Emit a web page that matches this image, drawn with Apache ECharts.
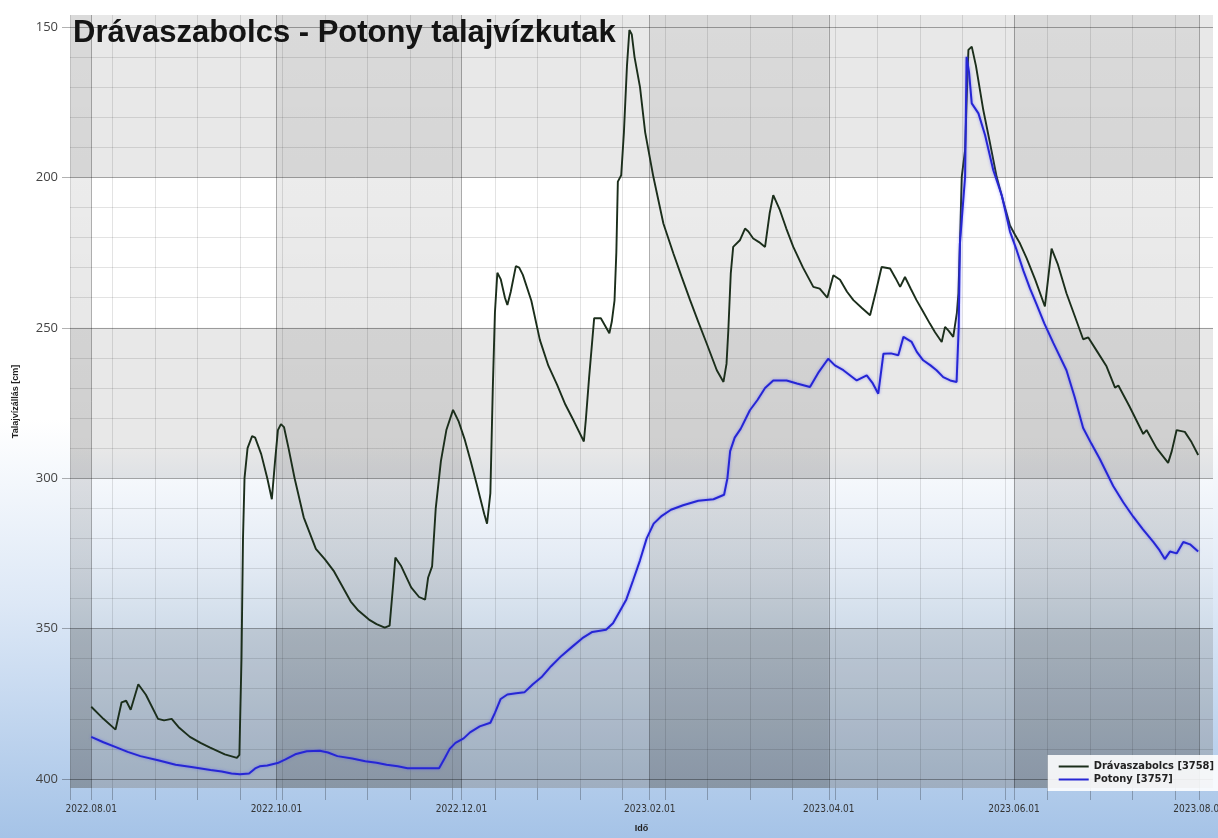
<!DOCTYPE html>
<html>
<head>
<meta charset="utf-8">
<title>Drávaszabolcs - Potony talajvízkutak</title>
<script src="https://cdn.jsdelivr.net/npm/echarts@6/dist/echarts.min.js"></script>
<style>
  html, body { margin: 0; padding: 0; background: #fff; }
  #chart { width: 1218px; height: 838px; }
</style>
</head>
<body>
<div id="chart"></div>
<script>
// mérések: [nap 2022.08.01-től, talajvízállás cm]
const START = Date.UTC(2022, 7, 1);
const DAY = 86400000;

const dravaszabolcs = [
  [0,376],[4,380],[8,383.6],[10,374.5],[11.5,374],[13,377],[15.5,368.5],[18,372],[22,380],[24,380.5],
  [26.5,380],[29,383],[32.5,386],[36,388],[39,389.5],[44,391.8],[48,393],[48.8,392],[49.5,360],[50,320],
  [50.5,300],[51.5,290],[53,286],[54,286.5],[56,292],[58,300],[59.5,307],[60.5,295],[61.5,284],[62.5,282],
  [63.5,283],[65,290],[67,300],[70,313],[74,323.5],[77,327],[80,331],[85.5,341],[88,344],[91.5,347],
  [94,348.5],[96.7,349.7],[98.3,349],[99.5,335],[100.2,326.4],[102,329],[105.4,336.3],[108,339.5],[110,340.4],[111,333],
  [112.3,329.3],[113.5,310],[115.2,294.3],[117,284],[119.2,277.3],[121,281],[123,287],[125,294.3],[127,302],[129.5,312],
  [130.4,315.1],[131.5,305],[132.3,270],[133,245],[133.8,231.7],[134.9,233.8],[136.3,240],[137.1,242.4],[138.2,238.1],[139.9,229.5],
  [141,230],[142.2,232.4],[145,241],[147.8,254],[150.6,262.6],[153.5,269],[156.2,275.5],[159,281],[162.3,287.8],[163,280],
  [164,266.9],[165.7,246.8],[167.9,246.8],[170.7,251.8],[171.5,248],[172.4,241],[173,225],[173.5,201.4],[174.6,199.3],[175.5,185],
  [176.5,163],[177.3,151],[178.1,152.5],[179,160],[180.8,170],[182.5,185],[185.2,199.8],[188.5,215.3],[191.8,225.3],[194.5,233],
  [197.3,240.8],[200,248],[202.8,255.3],[206.1,264.1],[208.3,268],[209.3,262],[209.9,250.8],[210.7,232],[211.5,223.1],[213.7,220.9],
  [215.4,217],[216.5,218],[218.1,220.3],[220,221.5],[222,223.1],[223.5,212],[224.7,205.9],[226.9,210.9],[229,217],[231.3,223.1],
  [234.5,230],[237.9,236.4],[240,237],[242.5,240],[244.5,232.5],[246.7,234],[249,238],[251.1,240.8],[254,243.5],[256.6,245.8],
  [258.5,238],[260.4,229.8],[263.2,230.3],[265,233.5],[266.5,236.4],[268.1,233.1],[270,237],[271.9,240.8],[274,244.5],[276.3,248.6],
  [278,251.5],[280.2,254.7],[281.3,249.7],[282.5,251],[284,253],[285.2,245],[285.7,238.6],[286.4,215],[286.8,199.8],[287.9,190.9],
  [288.5,172],[289,157.6],[290.1,156.5],[291.5,163],[293.9,177.6],[296,188],[298.3,199.8],[300.5,208],[302.7,216],[304.3,219],
  [306,222],[308.2,226.9],[311,234],[314.2,242.9],[315,236],[316.4,223.7],[318.5,229],[321.3,238.5],[324,246],[326.8,253.8],
  [328.5,253.2],[331.5,258],[334.5,262.8],[337.3,269.9],[338.4,269.2],[342,276],[346.6,285.3],[347.7,284],[351,290],[354.8,294.9],
  [356,291],[357.6,284],[360.3,284.6],[362.5,288],[364.7,292.3]
];

const potony = [
  [0,386],[4,387.8],[8.1,389.4],[12,391],[16.2,392.4],[22,393.8],[27.8,395.3],[33,396],[39.3,397],[43,397.5],
  [46.2,398.2],[49,398.4],[52,398.2],[54,396.5],[55.5,395.8],[58,395.5],[61.4,394.7],[64,393.5],[67.2,391.8],[71,390.8],
  [75.3,390.6],[78,391.2],[81.1,392.4],[86,393.2],[90.3,394.1],[94,394.6],[97.3,395.3],[101,395.8],[104.2,396.4],[110,396.4],
  [114.6,396.4],[116.5,393],[118.1,390],[120,388],[122.7,386.5],[124.8,384.5],[128,382.5],[131.5,381.3],[133,378],[134.9,373.4],
  [137.1,371.9],[140,371.5],[142.7,371.2],[145.5,368.5],[148.3,366.2],[151.5,362.5],[155,359],[158.5,356],[161.8,353.2],[165.1,351.1],
  [169.6,350.4],[171.9,348.2],[174,344.5],[176.3,340.3],[178.5,334],[180.8,327.3],[183,320],[185.3,315.1],[188,312.5],[191,310.5],
  [195,309],[200,307.5],[205,307],[208.5,305.5],[209.6,300],[210.5,291],[212,286.5],[214,283.5],[217,277.4],[219.5,274],
  [222,270],[224.7,267.5],[229.1,267.5],[232.5,268.5],[236.8,269.7],[239.5,265],[242.8,260.3],[245,262.5],[247.8,264.1],[252.2,267.5],
  [255.5,265.8],[257.5,268.5],[259.3,271.9],[261,258.6],[263.5,258.5],[265.9,259.1],[267.6,253],[270.3,254.7],[272,258],[274.1,260.8],
  [276.5,262.5],[278.5,264.1],[280.7,266.4],[283,267.5],[285.1,268],[285.8,250],[286.2,222],[287.9,199.8],[288.4,159.9],[289.2,165],
  [290.1,175.4],[292.3,178.7],[294.5,186],[297.2,197.6],[300,206],[302.7,218],[304.9,224.2],[307.1,231],[309.3,237],[311.5,242.3],
  [314,248.5],[317,255.1],[321.3,264.1],[324,273],[326.8,283.3],[329.5,288.5],[332.3,293.6],[336.7,302.6],[340,308],[343.3,312.8],
  [346.5,317],[349.9,321.2],[352,324],[353.7,326.9],[355.4,324.4],[357.6,325],[359.8,321.2],[362,322],[364.7,324.4]
];

const tickDates = ['2022-08-01', '2022-10-01', '2022-12-01', '2023-02-01', '2023-04-01', '2023-06-01', '2023-08-01'];
const yTicks = [150, 200, 250, 300, 350, 400];

const xMin = Date.UTC(2022, 6, 25);
const xMax = Date.UTC(2023, 7, 5, 14);
const yMin = 146;
const yMax = 403;

const toPoint = p => [START + p[0] * DAY, p[1]];
const majorX = tickDates.map(s => Date.parse(s));

// kéthetes segédrács (hétfők)
const minorX = [];
for (let t = xMin; t <= xMax; t += 14 * DAY) minorX.push(t);

const pad = n => (n < 10 ? '0' : '') + n;
const fmtDate = v => {
  const d = new Date(v);
  return d.getUTCFullYear() + '.' + pad(d.getUTCMonth() + 1) + '.' + pad(d.getUTCDate());
};

// sávok
const colShade = new echarts.graphic.LinearGradient(0, 0, 0, 1, [
  { offset: 0, color: 'rgba(0,0,0,0.06)' },
  { offset: 1, color: 'rgba(0,0,0,0.14)' }
]);
const rowShade = 'rgba(0,0,0,0.09)';
const bands = [
  [{ xAxis: xMin, itemStyle: { color: colShade } }, { xAxis: majorX[0] }],
  [{ xAxis: majorX[1], itemStyle: { color: colShade } }, { xAxis: majorX[2] }],
  [{ xAxis: majorX[3], itemStyle: { color: colShade } }, { xAxis: majorX[4] }],
  [{ xAxis: majorX[5], itemStyle: { color: colShade } }, { xAxis: majorX[6] }],
  [{ yAxis: yMin, itemStyle: { color: rowShade } }, { yAxis: 200 }],
  [{ yAxis: 250, itemStyle: { color: rowShade } }, { yAxis: 300 }],
  [{ yAxis: 350, itemStyle: { color: rowShade } }, { yAxis: yMax }]
];

// rácsvonalak
const gridLines = [];
minorX.forEach(t => gridLines.push({ xAxis: t, lineStyle: { color: 'rgba(0,0,0,0.11)', width: 1, type: 'solid' } }));
for (let v = 160; v < 400; v += 10) {
  if (v % 50 !== 0) gridLines.push({ yAxis: v, lineStyle: { color: 'rgba(0,0,0,0.11)', width: 1, type: 'solid' } });
}
majorX.forEach(t => gridLines.push({ xAxis: t, lineStyle: { color: 'rgba(0,0,0,0.3)', width: 1, type: 'solid' } }));
yTicks.forEach(v => gridLines.push({ yAxis: v, lineStyle: { color: 'rgba(0,0,0,0.33)', width: 1, type: 'solid' } }));

const chart = echarts.init(document.getElementById('chart'), null, { renderer: 'canvas' });

const option = {
  animation: false,
  backgroundColor: new echarts.graphic.LinearGradient(0, 0, 0, 1, [
    { offset: 0, color: '#ffffff' },
    { offset: 0.5, color: '#ffffff' },
    { offset: 0.72, color: '#dde8f6' },
    { offset: 1, color: '#a5c3e7' }
  ]),
  title: {
    text: 'Drávaszabolcs - Potony talajvízkutak',
    left: 68,
    top: 13,
    textStyle: { fontFamily: 'Liberation Sans, Arial, sans-serif', fontSize: 31, fontWeight: 'bold', color: '#141414' }
  },
  legend: {
    data: ['Drávaszabolcs [3758]', 'Potony [3757]'],
    orient: 'vertical',
    right: 0,
    bottom: 47,
    backgroundColor: 'rgba(255,255,255,0.88)',
    padding: [6, 4, 6, 11],
    itemWidth: 30,
    itemHeight: 2,
    itemGap: 2,
    icon: 'rect',
    textStyle: { fontSize: 11, fontWeight: 'bold', color: '#222', fontFamily: 'DejaVu Sans Condensed, Liberation Sans, sans-serif' }
  },
  grid: {
    left: 70,
    right: 5,
    top: 15,
    bottom: 50,
    outerBoundsMode: 'none',
    containLabel: false,
    show: true,
    borderWidth: 0,
    backgroundColor: new echarts.graphic.LinearGradient(0, 0, 0, 1, [
      { offset: 0, color: '#ffffff' },
      { offset: 0.56, color: '#ffffff' },
      { offset: 0.6, color: '#f5f8fc' },
      { offset: 0.7, color: '#e5ecf5' },
      { offset: 0.79, color: '#d1ddea' },
      { offset: 1, color: '#afc0d4' }
    ])
  },
  xAxis: {
    type: 'value',
    min: xMin,
    max: xMax,
    name: 'Idő',
    nameLocation: 'middle',
    nameGap: 36,
    nameTextStyle: { fontSize: 9, fontWeight: 'bold', color: '#222' },
    axisLine: { show: false },
    axisTick: {
      show: true,
      customValues: minorX.concat(majorX),
      length: 12,
      lineStyle: { color: 'rgba(0,0,0,0.25)' }
    },
    axisLabel: {
      customValues: majorX,
      formatter: fmtDate,
      margin: 16,
      fontSize: 10,
      color: '#333',
      fontFamily: 'Liberation Sans Narrow, DejaVu Sans Condensed, sans-serif'
    },
    splitLine: { show: false }
  },
  yAxis: {
    type: 'value',
    inverse: true,
    min: yMin,
    max: yMax,
    name: 'Talajvízállás [cm]',
    nameLocation: 'middle',
    nameGap: 50,
    nameTextStyle: { fontSize: 9, fontWeight: 'bold', color: '#222' },
    axisLine: { show: false },
    axisTick: {
      show: true,
      customValues: yTicks,
      length: 8,
      lineStyle: { color: 'rgba(0,0,0,0.3)' }
    },
    axisLabel: {
      customValues: yTicks,
      margin: 12,
      fontSize: 13,
      color: '#444',
      fontFamily: 'Open Sans, DejaVu Sans, sans-serif'
    },
    splitLine: { show: false }
  },
  series: [
    {
      name: 'Drávaszabolcs [3758]',
      type: 'line',
      z: 3,
      showSymbol: false,
      data: dravaszabolcs.map(toPoint),
      color: '#1b2e1b',
      lineStyle: { width: 1.9, color: '#1b2e1b' },
      markArea: { silent: true, z: 1, data: bands },
      markLine: {
        silent: true,
        z: 1,
        symbol: ['none', 'none'],
        label: { show: false },
        data: gridLines
      }
    },
    {
      name: 'Potony [3757]',
      type: 'line',
      z: 3,
      showSymbol: false,
      data: potony.map(toPoint),
      color: '#2626d4',
      lineStyle: { width: 2, color: '#2626d4', shadowBlur: 3, shadowColor: 'rgba(90,90,255,0.6)' }
    }
  ]
};

chart.setOption(option);
</script>
</body>
</html>
